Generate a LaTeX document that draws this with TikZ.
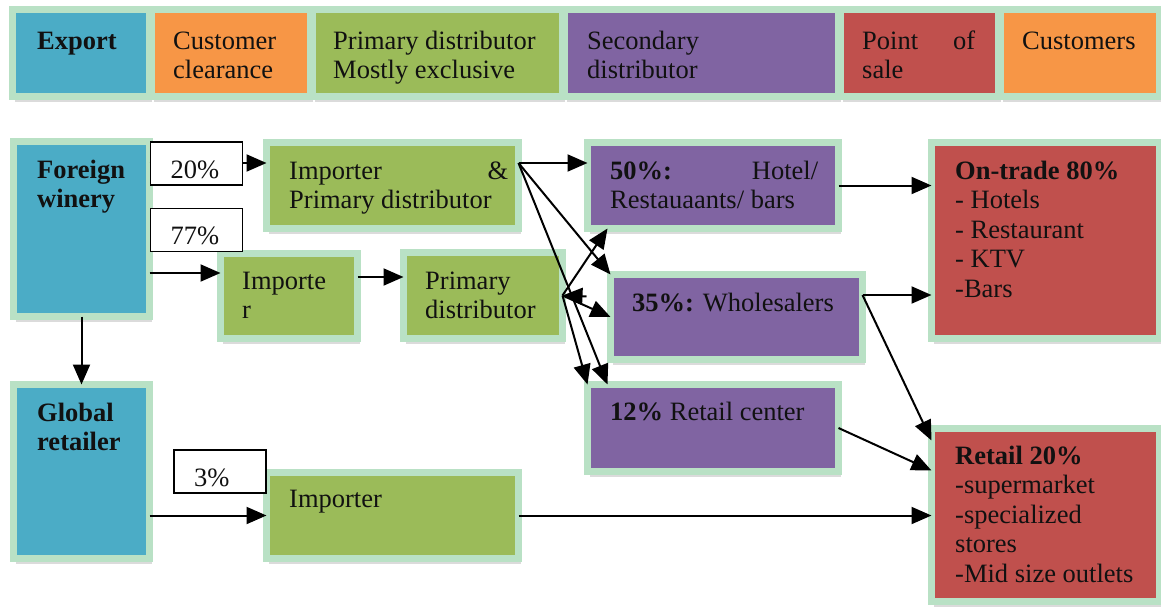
\documentclass[tikz,border=0pt]{standalone}
\usepackage{fontspec}
\setmainfont{Liberation Serif}
\usetikzlibrary{arrows.meta,calc,shadows}
\definecolor{cblue}{HTML}{4BACC6}
\definecolor{corange}{HTML}{F79646}
\definecolor{cgreen}{HTML}{9BBB59}
\definecolor{cpurple}{HTML}{8064A2}
\definecolor{cred}{HTML}{C0504D}
\definecolor{bgreen}{HTML}{B9E1C5}
\definecolor{ink}{HTML}{111111}
\newcommand{\fs}{\fontsize{26.5}{29.5}\selectfont}
\newcommand{\boxtext}[1]{\parbox[t]{400pt}{\raggedright #1}}
\tikzset{
  blk/.style={draw=bgreen, line width=7pt, inner sep=0pt, outer sep=0pt,
    drop shadow={shadow xshift=2pt, shadow yshift=-5pt, opacity=0.28}},
  txt/.style={anchor=base west, inner sep=0pt, font=\fs, text=ink},
  lbl/.style={draw=black, fill=white, line width=1.4pt, minimum width=92pt,
    minimum height=43pt, text width=52pt, inner xsep=20pt, inner ysep=2pt,
    align=left, text height=29pt, text depth=0pt, font=\fs, text=ink},
  arr/.style={draw=black, line width=2pt, -{Triangle[length=20pt,width=17pt]}}
}
\begin{document}
\begin{tikzpicture}[x=1pt,y=-1pt]
\useasboundingbox (0,0) rectangle (1161,608);
\fill[white] (0,0) rectangle (1161,608);
\clip (0,0) rectangle (1161,608);
% top row
\node[blk, fill=cblue,   minimum width=137pt, minimum height=87pt] (export) at (81,53) {};
\node[blk, fill=corange, minimum width=159pt, minimum height=87pt] (cc) at (231,53) {};
\node[blk, fill=cgreen,  minimum width=250pt, minimum height=87pt] (pdh) at (437.5,53) {};
\node[blk, fill=cpurple, minimum width=274pt, minimum height=87pt] (sd) at (701.5,53) {};
\node[blk, fill=cred,    minimum width=158pt, minimum height=87pt] (pos) at (919.5,53) {};
\node[blk, fill=corange, minimum width=159pt, minimum height=87pt] (cust) at (1080,53) {};
\node[txt] (export-t) at (37,49) {\boxtext{\textbf{Export}}};
\node[txt] (cc-t) at (173,49) {\boxtext{Customer\\clearance}};
\node[txt] (pdh-t) at (333,49) {\boxtext{Primary distributor\\Mostly exclusive}};
\node[txt] (sd-t) at (587,49) {\boxtext{Secondary\\distributor}};
\node[txt] (pos-t) at (862,49) {\boxtext{\makebox[113pt][s]{Point of}\\sale}};
\node[txt] (cust-t) at (1022,49) {\boxtext{Customers}};
% flow boxes
\node[blk, fill=cblue,   minimum width=136pt, minimum height=175pt] (fw) at (81.5,229) {};
\node[blk, fill=cgreen,  minimum width=252pt, minimum height=86pt] (ipd) at (392.5,185.5) {};
\node[blk, fill=cgreen,  minimum width=137pt, minimum height=85pt] (imp1) at (289,296) {};
\node[blk, fill=cgreen,  minimum width=159pt, minimum height=86pt] (pd) at (483,295.5) {};
\node[blk, fill=cblue,   minimum width=136pt, minimum height=174pt] (gr) at (81.5,471.5) {};
\node[blk, fill=cgreen,  minimum width=252pt, minimum height=86pt] (imp2) at (392.5,515.5) {};
\node[blk, fill=cpurple, minimum width=251pt, minimum height=86pt] (h50) at (713,185.5) {};
\node[blk, fill=cpurple, minimum width=252pt, minimum height=85pt] (w35) at (736.5,317) {};
\node[blk, fill=cpurple, minimum width=251pt, minimum height=87pt] (r12) at (713,428) {};
\node[blk, fill=cred,    minimum width=228pt, minimum height=196pt] (ot) at (1045.5,240.5) {};
\node[blk, fill=cred,    minimum width=228pt, minimum height=173pt] (rt) at (1045.5,515) {};
% texts
\node[txt] (fw-t) at (37,178) {\boxtext{\textbf{Foreign\\winery}}};
\node[txt] (ipd-t) at (289,179) {\boxtext{\makebox[219pt][s]{Importer \&}\\Primary distributor}};
\node[txt] (imp1-t) at (242,289) {\boxtext{Importe\\r}};
\node[txt] (pd-t) at (425,289) {\boxtext{Primary\\distributor}};
\node[txt] (gr-t) at (37,421) {\boxtext{\textbf{Global\\retailer}}};
\node[txt] (imp2-t) at (289,507) {\boxtext{Importer}};
\node[txt] (h50-t) at (610,179) {\boxtext{\makebox[208pt][s]{\textbf{50\%:} Hotel/}\\Restauaants/ bars}};
\node[txt] (w35-t) at (632,311) {\boxtext{\textbf{35\%:} Wholesalers}};
\node[txt] (r12-t) at (610,420) {\boxtext{\textbf{12\%} Retail center}};
\node[txt] (ot-t) at (955,179) {\boxtext{\textbf{On-trade 80\%}\\- Hotels\\- Restaurant\\- KTV\\-Bars}};
\node[txt] (rt-t) at (955,464) {\boxtext{\textbf{Retail 20\%}\\-supermarket\\-specialized\\stores\\-Mid size outlets}};
% connector end coordinates
\coordinate (fwa) at ($(fw.east)+(0,-66)$);
\coordinate (fwb) at ($(fw.east)+(0,44)$);
\coordinate (imp1a) at ($(imp1.east)+(0,-19)$);
\coordinate (ipda) at ($(ipd.east)+(0,-22.5)$);
\coordinate (w35a) at ($(w35.east)+(0,-22)$);
\coordinate (pdtail) at ($(pd.east)+(24,1)$);
% connectors
\draw[arr] (fwa) -- (ipd.west |- fwa);
\draw[arr] (fwb) -- (imp1.west |- fwb);
\draw[arr] (imp1a) -- (pd.west |- imp1a);
\draw[arr] (fw.south) -- (gr.north);
\draw[arr] (gr.east |- imp2.west) -- (imp2.west);
\draw[arr] (imp2.east) -- (rt.west |- imp2.east);
\draw[arr] (ipda) -- (h50.west |- ipda);
\draw[arr] (ipda) -- (w35.north west);
\draw[arr] (ipda) -- ($(r12.north west)+(20,0)$);
\draw[arr] (pd.east) -- ($(h50.south west)+(20,0)$);
\draw[arr] (pd.east) -- (w35.west);
\draw[arr] (pd.east) -- (r12.north west);
\draw[arr] (pdtail) -- (pd.east);
\draw[arr] (h50.east) -- (ot.west |- h50.east);
\draw[arr] (w35a) -- (ot.west |- w35a);
\draw[arr] (w35a) -- ($(rt.north west)+(0,12)$);
\draw[arr] (r12.east) -- ($(rt.north west)+(0,42)$);
% labels
\node[lbl] (l20) at (196.5,163.5) {20\%};
\node[lbl] (l77) at (196.5,230) {77\%};
\node[lbl] (l3) at (220,471.5) {3\%};
\end{tikzpicture}
\end{document}
